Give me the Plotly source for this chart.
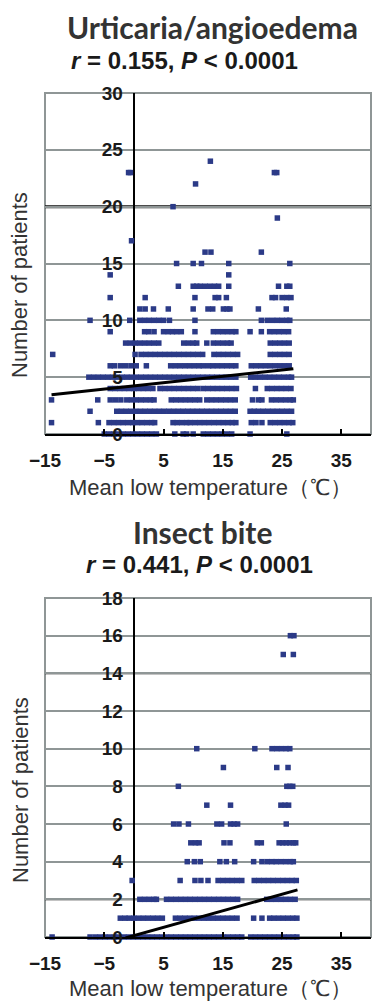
import plotly.graph_objects as go

# ---------------- Data: Urticaria/angioedema (number of patients vs mean low temperature) ----------------
u0 = [-5.0, -4.2, -3.4, -2.6, -1.8, -1.0, -0.2, 0.6, 1.4, 2.2, 3.0, 3.8, 6.9, 8.3, 8.9, 10.0, 11.7, 12.5, 13.3,
      14.1, 14.9, 15.7, 16.5, 19.6, 25.8]
u1 = [-13.9, -6.0, -4.2, -3.4, -2.6, -1.8, -1.0, -0.2, 0.6, 1.4, 2.2, 3.0, 3.5, 6.6, 7.3, 8.1, 8.9, 9.5, 10.3, 11.1,
      11.9, 12.7, 13.5, 14.3, 15.1, 15.9, 16.6, 17.2, 19.8, 20.6, 21.6, 23.0, 23.8, 24.6, 25.4, 26.2, 26.8]
u2 = [-7.4, -2.9, -2.1, -1.3, -0.5, 0.3, 1.1, 1.9, 2.7, 3.5, 4.3, 5.1, 5.9, 6.7, 7.5, 8.3, 9.1, 9.9, 10.7, 11.5,
      12.3, 13.1, 13.9, 14.7, 15.5, 16.3, 17.1, 19.6, 20.3, 21.0, 21.8, 22.6, 23.4, 24.2, 25.0, 25.8, 26.6]
u3 = [-13.9, -6.1, -4.0, -3.1, -2.2, -1.2, -0.4, 0.4, 1.2, 2.0, 2.8, 3.4, 6.3, 7.1, 7.9, 8.7, 9.5, 10.3, 11.1, 12.3,
      13.1, 13.9, 14.7, 15.5, 16.3, 17.1, 20.0, 21.0, 21.6, 23.2, 24.0, 24.8, 25.6, 26.4, 26.9]
u4 = [-4.0, -3.2, -2.4, -1.6, -0.8, 0.0, 0.8, 1.6, 2.4, 3.2, 4.4, 5.2, 6.0, 6.8, 7.6, 8.4, 9.2, 10.0, 10.8, 11.7,
      12.5, 13.3, 14.1, 14.9, 15.7, 16.5, 17.3, 20.5, 22.5, 23.3, 24.1, 24.9, 25.7, 26.5]
u5 = [-7.6, -6.8, -6.0, -5.2, -4.4, -3.6, -2.8, -2.0, -1.2, -0.4, 0.4, 1.2, 2.0, 2.8, 3.6, 4.4, 5.2, 6.0, 6.8, 7.6,
      8.4, 9.2, 10.0, 10.8, 11.6, 12.4, 13.2, 14.0, 14.8, 15.6, 16.4, 17.2, 19.7, 20.5, 21.3, 22.1, 22.9, 23.7,
      24.5, 25.3, 26.1, 26.6]
u6 = [-4.0, -3.3, -2.3, -1.4, -0.5, 0.4, 2.1, 6.2, 7.0, 7.8, 8.6, 9.4, 10.2, 11.0, 11.7, 12.6, 13.3, 14.1, 14.9,
      15.7, 16.5, 17.2, 19.8, 20.6, 21.4, 22.2, 23.0, 23.8, 24.6, 25.4, 26.2]
u7 = [-13.7, 0.2, 1.2, 2.0, 2.8, 3.6, 4.4, 5.2, 6.0, 6.8, 7.6, 8.4, 9.2, 10.0, 10.8, 11.6, 13.5, 14.3, 15.1, 15.9,
      16.7, 17.5, 23.0, 23.8, 24.6, 25.4, 26.2]
u8 = [-1.4, -0.6, 0.2, 1.0, 1.8, 2.6, 3.4, 4.2, 8.4, 9.2, 10.0, 10.6, 12.3, 13.4, 14.2, 15.0, 15.8, 16.4, 23.0, 23.8,
      24.6, 25.4, 26.2]
u9 = [-4.0, 1.8, 2.5, 3.4, 5.0, 5.8, 6.5, 7.2, 8.0, 10.3, 13.4, 14.2, 15.0, 15.8, 16.6, 17.2, 19.6, 21.5, 22.9,
      23.7, 24.5, 25.3, 26.1]
u10 = [-7.4, -0.7, 1.0, 1.8, 2.6, 3.4, 4.2, 5.0, 6.0, 10.3, 21.5, 22.5, 23.4, 24.2, 25.0, 25.8, 26.3]
u11 = [1.0, 1.9, 3.3, 5.8, 10.0, 12.5, 13.3, 15.1, 15.7, 16.2, 21.0, 25.7]
u12 = [-4.0, 1.9, 10.3, 13.7, 14.3, 15.6, 23.3, 23.9, 25.0, 25.8, 26.5]
u13 = [7.5, 10.0, 10.6, 11.2, 12.0, 12.8, 13.6, 14.3, 16.0, 24.4, 25.8, 26.3]
u14 = [-4.0, 16.0]
u15 = [7.2, 10.0, 11.4, 16.0, 26.3]
u16 = [12.0, 13.0, 21.5]
u17 = [-0.4]
u19 = [24.2]
u20 = [6.6]
u22 = [10.4]
u23 = [-0.9, -0.6, 23.7, 24.1]
u24 = [12.9]

urt_trend_x = [-13.9, 26.9]
urt_trend_y = [3.45, 5.75]

# ---------------- Data: Insect bite ----------------
i0 = [-13.8, -7.4, -6.5, -5.7, -4.9, -4.1, -3.3, -2.5, -1.7, -0.9, -0.1, 0.7, 1.5, 2.3, 3.1, 3.9, 4.7, 5.5, 6.3,
      7.1, 7.9, 8.7, 9.5, 10.3, 11.1, 11.9, 12.7, 13.5, 14.3, 15.1, 15.9, 16.7, 17.5, 18.2, 19.7, 20.5, 21.3, 22.1,
      22.9, 23.7, 24.5, 25.3, 26.1, 26.9, 27.5]
i1 = [-2.3, -1.5, -0.8, 0.0, 0.8, 1.6, 2.4, 3.2, 4.0, 4.8, 7.0, 7.8, 8.6, 9.4, 10.2, 11.0, 11.8, 12.6, 13.4, 14.2,
      15.0, 15.8, 16.6, 17.4, 20.2, 21.6, 22.9, 23.6, 24.4, 25.2, 26.0, 26.8, 27.5]
i2 = [1.0, 1.8, 2.6, 3.4, 3.8, 5.5, 6.3, 7.1, 7.9, 8.7, 9.5, 10.3, 11.1, 11.9, 12.7, 13.5, 14.3, 15.1, 15.9, 16.7,
      17.5, 22.4, 23.2, 24.0, 24.8, 25.6, 26.4, 27.2]
i3 = [-0.3, 7.8, 10.3, 11.3, 12.5, 14.2, 15.0, 15.8, 16.6, 17.4, 18.2, 20.3, 21.1, 21.9, 22.7, 23.5, 24.3, 25.1,
      25.9, 26.7, 27.4]
i4 = [9.0, 10.2, 11.2, 14.5, 15.6, 17.0, 20.2, 21.6, 22.5, 23.3, 24.0, 24.8, 25.6, 26.4, 26.9]
i5 = [9.6, 10.4, 11.0, 15.2, 16.2, 20.8, 21.5, 24.5, 25.1, 25.7, 26.3, 26.9, 27.3]
i6 = [6.7, 7.6, 9.2, 14.0, 14.8, 16.3, 16.9, 17.5, 25.7]
i7 = [12.3, 16.3, 24.8, 25.5, 26.1]
i8 = [7.5, 25.8, 26.3, 26.8]
i9 = [15.1, 24.1, 26.0]
i10 = [10.6, 20.4, 23.3, 24.1, 24.9, 25.7, 26.3]
i15 = [25.2, 26.9]
i16 = [26.4, 27.0]

ins_trend_x = [-1.4, 27.6]
ins_trend_y = [-0.05, 2.5]

x_tickvals = [-15, -5, 5, 15, 25, 35]
urt_yticks = [0, 5, 10, 15, 20, 25, 30]
ins_yticks = [0, 2, 4, 6, 8, 10, 12, 14, 16, 18]

urt_rows = [(0, u0), (1, u1), (2, u2), (3, u3), (4, u4), (5, u5), (6, u6), (7, u7), (8, u8), (9, u9),
            (10, u10), (11, u11), (12, u12), (13, u13), (14, u14), (15, u15), (16, u16), (17, u17),
            (19, u19), (20, u20), (22, u22), (23, u23), (24, u24)]
ins_rows = [(0, i0), (1, i1), (2, i2), (3, i3), (4, i4), (5, i5), (6, i6), (7, i7), (8, i8), (9, i9),
            (10, i10), (15, i15), (16, i16)]


def flatten(rows):
    xs, ys = [], []
    for cnt, temps in rows:
        for t in temps:
            xs.append(t)
            ys.append(cnt)
    return xs, ys


W, H = 374, 1003
MARK = "#2B3A87"
XDOM = [45 / W, 371 / W]
TOP_DOM = [1 - 434 / H, 1 - 93 / H]
BOT_DOM = [1 - 937 / H, 1 - 598 / H]
XR = [-15, 40]
yax_pos = XDOM[0] + (0 - XR[0]) / (XR[1] - XR[0]) * (XDOM[1] - XDOM[0])

fig = go.Figure()

ux, uy = flatten(urt_rows)
ix, iy = flatten(ins_rows)

fig.add_trace(go.Scatter(x=ux, y=uy, mode="markers", xaxis="x", yaxis="y", cliponaxis=False,
                         marker=dict(symbol="square", size=5.5, color=MARK)))
fig.add_trace(go.Scatter(x=urt_trend_x, y=urt_trend_y, mode="lines", xaxis="x", yaxis="y", cliponaxis=False,
                         line=dict(color="black", width=3)))
fig.add_trace(go.Scatter(x=ix, y=iy, mode="markers", xaxis="x2", yaxis="y2", cliponaxis=False,
                         marker=dict(symbol="square", size=5.5, color=MARK)))
fig.add_trace(go.Scatter(x=ins_trend_x, y=ins_trend_y, mode="lines", xaxis="x2", yaxis="y2", cliponaxis=False,
                         line=dict(color="black", width=3)))

tickfont = dict(family="Liberation Sans, Arial", size=19, color="#1a1a1a", weight="bold")
xaxis_common = dict(domain=XDOM, range=XR, tickmode="array", tickvals=x_tickvals, ticks="inside", ticklen=5,
                    tickwidth=1.5, tickcolor="black", showline=True, linecolor="black", linewidth=2,
                    showgrid=False, zeroline=True, zerolinecolor="black", zerolinewidth=1.5,
                    tickfont=tickfont, ticklabelstandoff=8, automargin=False, fixedrange=True)
yaxis_common = dict(anchor="free", position=yax_pos, tickmode="array", ticks="", showline=False,
                    showgrid=True, gridcolor="#8f9696", gridwidth=1.5, zeroline=False,
                    tickfont=tickfont, ticklabelstandoff=11, automargin=False, fixedrange=True)

fig.update_layout(
    width=W, height=H, margin=dict(l=0, r=0, t=0, b=0, autoexpand=False),
    paper_bgcolor="white", plot_bgcolor="white", showlegend=False,
    xaxis=dict(anchor="y", **xaxis_common),
    yaxis=dict(domain=TOP_DOM, range=[0, 30], tickvals=urt_yticks, **yaxis_common),
    xaxis2=dict(anchor="y2", **xaxis_common),
    yaxis2=dict(domain=BOT_DOM, range=[0, 18], tickvals=ins_yticks, **yaxis_common),
)

shapes = []
for dom in (TOP_DOM, BOT_DOM):
    shapes.append(dict(type="rect", xref="paper", yref="paper", x0=XDOM[0], x1=XDOM[1], y0=dom[0], y1=dom[1],
                       line=dict(color="#8f9696", width=2), layer="between"))
# darker gridlines as they appear in the reference
for yv, w in ((25, 1.5), (20, 3), (10, 1.5), (5, 1.5)):
    shapes.append(dict(type="line", xref="paper", yref="y", x0=XDOM[0], x1=XDOM[1], y0=yv, y1=yv,
                       line=dict(color="#111", width=w), layer="between"))
for yv, w in ((14, 2), (6, 2), (2, 2)):
    shapes.append(dict(type="line", xref="paper", yref="y2", x0=XDOM[0], x1=XDOM[1], y0=yv, y1=yv,
                       line=dict(color="#111", width=w), layer="between"))
fig.update_layout(shapes=shapes)


def px(xp, yp):
    return xp / W, 1 - yp / H


anns = []
title_font = dict(family="Lato, Open Sans", size=30, color="#333333", weight="bold")
sub_font = dict(family="Liberation Sans, Arial", size=24, color="#1a1a1a", weight="bold")
axis_font = dict(family="Liberation Sans, Arial", size=22, color="#333")

for (cx, cy), text, font in (
    ((213, 27), "Urticaria/angioedema", title_font),
    ((184, 61), "<i>r</i> = 0.155, <i>P</i> &lt; 0.0001", sub_font),
    ((203, 532), "Insect bite", title_font),
    ((199, 564), "<i>r</i> = 0.441, <i>P</i> &lt; 0.0001", sub_font),
    ((210, 487), "Mean low temperature（℃）", axis_font),
    ((210, 988), "Mean low temperature（℃）", axis_font),
):
    x, y = px(cx, cy)
    anns.append(dict(x=x, y=y, xref="paper", yref="paper", text=text, showarrow=False,
                     xanchor="center", yanchor="middle", font=font))

for cy in (285, 790):
    x, y = px(20, cy)
    anns.append(dict(x=x, y=y, xref="paper", yref="paper", text="Number of patients", showarrow=False,
                     textangle=-90, xanchor="center", yanchor="middle", font=axis_font))

fig.update_layout(annotations=anns)

fig.write_html("out.html")
